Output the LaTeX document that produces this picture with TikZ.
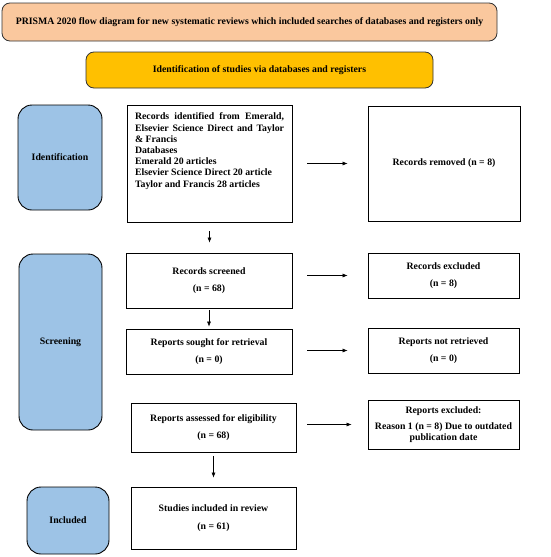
\documentclass[tikz,border=0pt]{standalone}
\usepackage{fontspec}
\setmainfont{Liberation Serif}
\usetikzlibrary{arrows.meta}
\definecolor{peach}{RGB}{250,200,158}
\definecolor{gold}{RGB}{255,192,0}
\definecolor{sideblue}{RGB}{157,195,230}
\hyphenpenalty=10000
\exhyphenpenalty=10000
\begin{document}
\begin{tikzpicture}[x=1pt,y=-1pt,
  every node/.style={font=\bfseries\fontsize{9.8}{11.2}\selectfont, inner sep=2pt},
  stage/.style={draw=black, line width=0.9pt, rounded corners=14pt, fill=sideblue},
  banner/.style={draw=black!80, line width=0.8pt, rounded corners=8pt},
  flowbox/.style={draw=black, line width=0.9pt, fill=white, align=center},
  arr/.style={-{Latex[length=5pt,width=4pt]}, line width=0.5pt}
]
\useasboundingbox (0,0) rectangle (550,557);
\node[banner, fill=peach, minimum width=495pt, minimum height=38pt] (title) at (249.5,22)
  {PRISMA 2020 flow diagram for new systematic reviews which included searches of databases and registers only};
\node[banner, fill=gold, minimum width=347pt, minimum height=36pt] (head) at (259.5,70)
  {Identification of studies via databases and registers};

\node[stage, minimum width=84pt, minimum height=105pt] (idside) at (60,157.5) {Identification};
\node[stage, minimum width=83pt, minimum height=176pt] (scrside) at (60.5,342) {Screening};
\node[stage, minimum width=82pt, minimum height=67pt] (incside) at (68,520.5) {Included};

\node[flowbox, minimum width=165pt, minimum height=117pt, inner sep=0pt] (recid) at (209.5,163.5)
  {\begin{minipage}[c][113pt][t]{149pt}\vspace{6pt}\setlength{\parfillskip}{0pt plus 1fil}%
  Records identified from Emerald, Elsevier Science Direct and Taylor \&~Francis\par
  Databases\par
  Emerald 20 articles\par
  Elsevier Science Direct 20 article\par
  Taylor and Francis 28 articles\par
  \end{minipage}};
\node[flowbox, minimum width=152pt, minimum height=115pt] (recrem) at (444,163.5) {Records removed (n = 8)};

\node[flowbox, minimum width=166pt, minimum height=55pt] (recscr) at (209,280.5) {Records screened\\[5.5pt](n = 68)};
\node[flowbox, minimum width=151pt, minimum height=45pt] (recexc) at (443.5,275.5) {Records excluded\\[5.5pt](n = 8)};

\node[flowbox, minimum width=166pt, minimum height=45pt] (repsou) at (209,351.5) {Reports sought for retrieval\\[5.5pt](n = 0)};
\node[flowbox, minimum width=151pt, minimum height=45pt] (repnot) at (443.5,350.5) {Reports not retrieved\\[5.5pt](n = 0)};

\node[flowbox, minimum width=165pt, minimum height=49pt] (repass) at (213.5,427.5) {Reports assessed for eligibility\\[6pt](n = 68)};
\node[flowbox, minimum width=151pt, minimum height=49pt, inner sep=1pt] (repexc) at (443.5,424.5) {Reports excluded:\\[5pt]Reason 1 (n = 8) Due to outdated\\publication date};

\node[flowbox, minimum width=165pt, minimum height=62pt] (studies) at (213.5,518) {Studies included in review\\[7pt](n = 61)};

\draw[arr, shorten <=15pt, shorten >=20pt] (recid.east) -- (recrem.west);
\draw[arr, shorten <=15pt, shorten >=20pt] (recscr.east |- recexc.west) -- (recexc.west);
\draw[arr, shorten <=15pt, shorten >=20pt] (repsou.east |- repnot.west) -- (repnot.west);
\draw[arr, shorten <=11pt, shorten >=16pt] (repass.east |- repexc.west) -- (repexc.west);

\draw[arr, shorten <=9pt, shorten >=10pt] (recid.south) -- (recid.south |- recscr.north);
\draw[arr, shorten <=2pt, shorten >=2pt] (recscr.south) -- (repsou.north);
\draw[arr, shorten <=4pt, shorten >=9pt] (repass.south) -- (studies.north);
\end{tikzpicture}
\end{document}
